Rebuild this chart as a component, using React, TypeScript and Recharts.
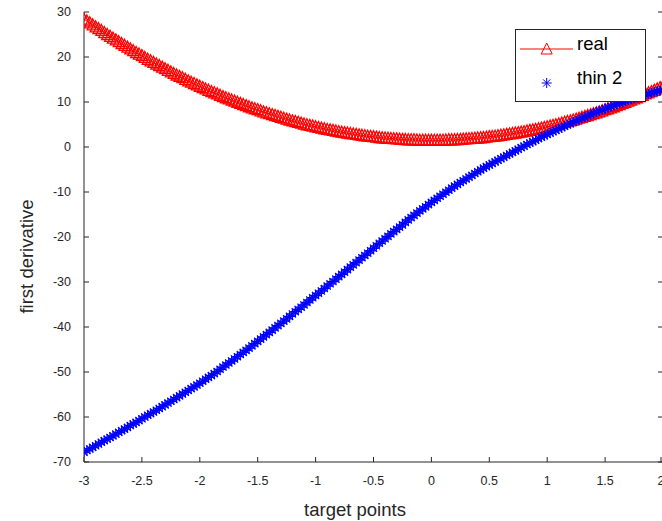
import React from "react";
import { ComposedChart, Line, XAxis, YAxis, Legend } from "recharts";

// axis ticks
const xTicks = [-3, -2.5, -2, -1.5, -1, -0.5, 0, 0.5, 1, 1.5, 2];
const yTicks = [-70, -60, -50, -40, -30, -20, -10, 0, 10, 20, 30];

// first derivative, exact ("real"), read every 0.025 from -3 to 2
const real = [
  28.4, 28.0, 27.6, 27.15, 26.7, 26.3, 25.9, 25.45, 25.0, 24.6, 24.2, 23.8, 23.4, 23.0, 22.6, 22.2, 21.8, 21.4, 21.0, 20.65,
  20.3, 19.9, 19.5, 19.15, 18.8, 18.45, 18.1, 17.75, 17.4, 17.05, 16.7, 16.35, 16.0, 15.7, 15.4, 15.05, 14.7, 14.4, 14.1, 13.8,
  13.5, 13.2, 12.9, 12.6, 12.3, 12.05, 11.8, 11.5, 11.2, 10.95, 10.7, 10.45, 10.2, 9.95, 9.7, 9.45, 9.2, 8.95, 8.7, 8.5,
  8.3, 8.05, 7.8, 7.6, 7.4, 7.2, 7.0, 6.8, 6.6, 6.4, 6.2, 6.0, 5.8, 5.65, 5.5, 5.3, 5.1, 4.95, 4.8, 4.65,
  4.5, 4.35, 4.2, 4.05, 3.9, 3.8, 3.7, 3.55, 3.4, 3.3, 3.2, 3.1, 3.0, 2.9, 2.8, 2.7, 2.6, 2.5, 2.4, 2.35,
  2.3, 2.2, 2.1, 2.05, 2.0, 1.95, 1.9, 1.85, 1.8, 1.75, 1.7, 1.65, 1.6, 1.6, 1.6, 1.55, 1.5, 1.5, 1.5, 1.5,
  1.5, 1.5, 1.5, 1.5, 1.5, 1.55, 1.6, 1.6, 1.6, 1.65, 1.7, 1.75, 1.8, 1.85, 1.9, 1.95, 2.0, 2.05, 2.1, 2.2,
  2.3, 2.35, 2.4, 2.5, 2.6, 2.7, 2.8, 2.9, 3.0, 3.1, 3.2, 3.3, 3.4, 3.55, 3.7, 3.8, 3.9, 4.05, 4.2, 4.35,
  4.5, 4.65, 4.8, 4.95, 5.1, 5.3, 5.5, 5.65, 5.8, 6.0, 6.2, 6.4, 6.6, 6.8, 7.0, 7.2, 7.4, 7.6, 7.8, 8.05,
  8.3, 8.5, 8.7, 8.95, 9.2, 9.45, 9.7, 9.95, 10.2, 10.45, 10.7, 10.95, 11.2, 11.5, 11.8, 12.05, 12.3, 12.6, 12.9, 13.2,
  13.5,
];

// first derivative, "thin 2" approximation, same sample points
const thin2 = [
  -67.8, -67.45, -67.1, -66.75, -66.4, -66.0, -65.6, -65.25, -64.9, -64.55, -64.2, -63.8, -63.4, -63.05, -62.7, -62.3, -61.9, -61.55, -61.2, -60.8,
  -60.4, -60.0, -59.6, -59.25, -58.9, -58.5, -58.1, -57.7, -57.3, -56.9, -56.5, -56.1, -55.7, -55.3, -54.9, -54.5, -54.1, -53.7, -53.3, -52.9,
  -52.5, -52.05, -51.6, -51.2, -50.8, -50.35, -49.9, -49.4, -48.9, -48.45, -48.0, -47.55, -47.1, -46.6, -46.1, -45.65, -45.2, -44.7, -44.2, -43.7,
  -43.2, -42.7, -42.2, -41.7, -41.2, -40.7, -40.2, -39.7, -39.2, -38.7, -38.2, -37.65, -37.1, -36.6, -36.1, -35.6, -35.1, -34.55, -34.0, -33.5,
  -33.0, -32.5, -32.0, -31.45, -30.9, -30.4, -29.9, -29.35, -28.8, -28.3, -27.8, -27.25, -26.7, -26.2, -25.7, -25.15, -24.6, -24.1, -23.6, -23.05,
  -22.5, -21.95, -21.4, -20.9, -20.4, -19.85, -19.3, -18.8, -18.3, -17.8, -17.3, -16.75, -16.2, -15.7, -15.2, -14.7, -14.2, -13.75, -13.3, -12.8,
  -12.3, -11.85, -11.4, -10.95, -10.5, -10.05, -9.6, -9.15, -8.7, -8.3, -7.9, -7.5, -7.1, -6.7, -6.3, -5.9, -5.5, -5.1, -4.7, -4.35,
  -4.0, -3.65, -3.3, -2.95, -2.6, -2.25, -1.9, -1.55, -1.2, -0.85, -0.5, -0.15, 0.2, 0.55, 0.9, 1.2, 1.5, 1.85, 2.2, 2.5,
  2.8, 3.1, 3.4, 3.7, 4.0, 4.3, 4.6, 4.9, 5.2, 5.5, 5.8, 6.1, 6.4, 6.65, 6.9, 7.2, 7.5, 7.75, 8.0, 8.25,
  8.5, 8.75, 9.0, 9.25, 9.5, 9.7, 9.9, 10.15, 10.4, 10.6, 10.8, 11.0, 11.2, 11.4, 11.6, 11.8, 12.0, 12.2, 12.4, 12.55,
  12.7,
];

// target points grid
const xs = real.map((_, i) => Math.round((-3 + i * 0.025) * 1000) / 1000);
const rows = xs.map((x, i) => ({ x, real: real[i], thin2: thin2[i] }));

const AXIS = "#262626";
const FONT = '"Liberation Sans", Arial, Helvetica, sans-serif';

const TriangleDot = (p: any) => {
  const { cx, cy } = p;
  if (cx == null || cy == null) return null;
  return (
    <path
      key={`tri-${p.index}`}
      d={`M${cx},${cy - 6}L${cx + 5.5},${cy + 5}L${cx - 5.5},${cy + 5}Z`}
      fill="none"
      stroke="#ff0000"
      strokeWidth={p.sw ?? 1.3}
    />
  );
};

const StarDot = (p: any) => {
  const { cx, cy } = p;
  if (cx == null || cy == null) return null;
  const r = 5, d = 3.6;
  return (
    <path
      key={`star-${p.index}`}
      d={`M${cx - r},${cy}H${cx + r}M${cx},${cy - r}V${cy + r}M${cx - d},${cy - d}L${cx + d},${cy + d}M${cx - d},${cy + d}L${cx + d},${cy - d}`}
      fill="none"
      stroke="#0000ff"
      strokeWidth={p.sw ?? 1.3}
    />
  );
};

// MATLAB-style ticks point into the box
const BottomTick = ({ x, y, payload }: any) => (
  <g>
    <line x1={x} y1={y} x2={x} y2={y - 5} stroke={AXIS} />
    <text x={x} y={y + 23} textAnchor="middle" fontSize={12.5} fill={AXIS} fontFamily={FONT}>
      {payload.value}
    </text>
  </g>
);
const LeftTick = ({ x, y, payload }: any) => (
  <g>
    <line x1={x} y1={y} x2={x + 5} y2={y} stroke={AXIS} />
    <text x={x - 13} y={y + 3.5} textAnchor="end" fontSize={12.5} fill={AXIS} fontFamily={FONT}>
      {payload.value}
    </text>
  </g>
);
const TopTick = ({ x, y }: any) => <line x1={x} y1={y} x2={x} y2={y + 5} stroke={AXIS} />;
const RightTick = ({ x, y }: any) => <line x1={x} y1={y} x2={x - 5} y2={y} stroke={AXIS} />;

const LegendBox = () => (
  <svg width={131} height={73} style={{ display: "block" }}>
    <rect x={0.5} y={0.5} width={130} height={72} fill="#ffffff" stroke={AXIS} />
    <line x1={5} y1={20} x2={58} y2={20} stroke="#ff0000" />
    <TriangleDot cx={31.7} cy={20} index={0} sw={1} />
    <text x={62} y={21} fontSize={18.5} fill="#000" fontFamily={FONT}>real</text>
    <StarDot cx={31.7} cy={54} index={1} sw={1} />
    <text x={62} y={55} fontSize={18.5} fill="#000" fontFamily={FONT}>thin 2</text>
  </svg>
);

export default function App() {
  return (
    <div style={{ position: "absolute", left: 0, top: 0, width: 662, height: 521, overflow: "hidden", background: "#fff" }}>
      <ComposedChart width={665} height={521} data={rows} margin={{ top: 12, right: 0, bottom: 0, left: 0 }}>
        <XAxis
          dataKey="x" type="number" domain={[-3, 2]} ticks={xTicks} allowDataOverflow
          height={59} tickSize={0} tickMargin={0} tickLine={false}
          axisLine={{ stroke: AXIS }} tick={<BottomTick />}
          label={(props: any) => {
            const vb = props.viewBox;
            return (
              <text x={vb.x + vb.width / 2 - 18.5} y={vb.y + 54} textAnchor="middle" fontSize={18.5} fill={AXIS} fontFamily={FONT}>
                target points
              </text>
            );
          }}
        />
        <XAxis
          xAxisId="top" orientation="top" dataKey="x" type="number" domain={[-3, 2]} ticks={xTicks} allowDataOverflow
          height={0} tickSize={0} tickMargin={0} tickLine={false}
          axisLine={{ stroke: AXIS }} tick={<TopTick />}
        />
        <YAxis
          type="number" domain={[-70, 30]} ticks={yTicks} allowDataOverflow
          width={84} tickSize={0} tickMargin={0} tickLine={false}
          axisLine={{ stroke: AXIS }} tick={<LeftTick />}
          label={(props: any) => {
            const vb = props.viewBox;
            const cx = vb.x + 26.5;
            const cy = vb.y + vb.height / 2 + 19.5;
            return (
              <text x={0} y={0} transform={`translate(${cx},${cy}) rotate(-90)`} dy="0.36em" textAnchor="middle" fontSize={18.5} fill={AXIS} fontFamily={FONT}>
                first derivative
              </text>
            );
          }}
        />
        <YAxis
          yAxisId="right" orientation="right" type="number" domain={[-70, 30]} ticks={yTicks} allowDataOverflow
          width={2} tickSize={0} tickMargin={0} tickLine={false}
          axisLine={{ stroke: AXIS }} tick={<RightTick />}
        />
        <Legend
          layout="vertical" align="center" verticalAlign="middle"
          wrapperStyle={{ left: 515, top: 29, width: 131, height: 73 }}
          content={() => <LegendBox />}
        />
        <Line dataKey="real" name="real" stroke="#ff0000" strokeWidth={1} dot={TriangleDot} activeDot={false} isAnimationActive={false} />
        <Line dataKey="thin2" name="thin 2" stroke="none" dot={StarDot} activeDot={false} isAnimationActive={false} />
      </ComposedChart>
    </div>
  );
}
